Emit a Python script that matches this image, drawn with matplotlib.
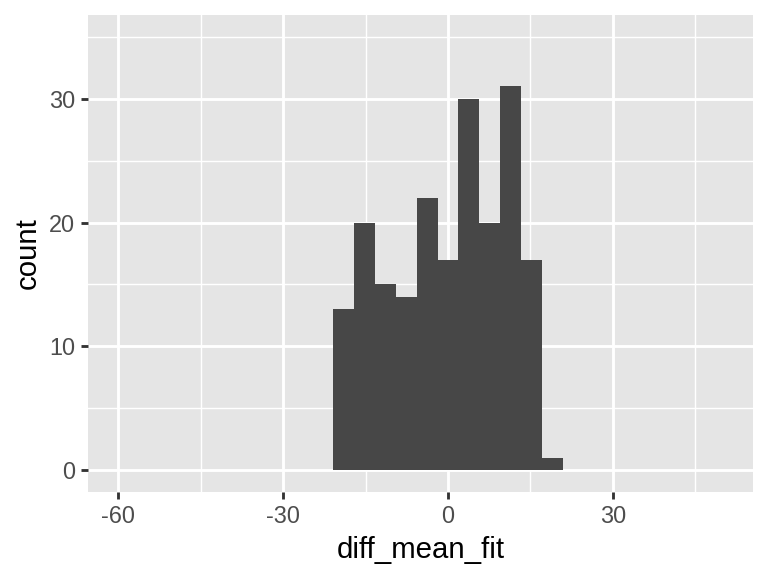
import matplotlib
matplotlib.use("Agg")
import matplotlib.pyplot as plt
import matplotlib.ticker as mticker

# histogram: 30 bins over [-60, 50] -> width 110/29
bin_width = 110 / 29
bin_centers = [-5, -4, -3, -2, -1, 0, 1, 2, 3, 4, 5]  # in units of bin_width
counts = [13, 20, 15, 14, 22, 17, 30, 20, 31, 17, 1]

x_ticks = [-60, -30, 0, 30]
y_ticks = [0, 10, 20, 30]

plt.rcParams["font.family"] = ["Liberation Sans", "DejaVu Sans"]

fig = plt.figure(figsize=(4, 3), dpi=192)
ax = fig.add_axes([88 / 768, 1 - 492 / 576, (753 - 88) / 768, (492 - 15) / 576])
ax.set_facecolor("#E5E5E5")

centers = [c * bin_width for c in bin_centers]
ax.bar(centers, counts, width=bin_width, color="#474747", linewidth=0, zorder=3)

ax.set_xlim(-60 - 5.5, 50 + 5.5)
ax.set_ylim(0 - 1.75, 35 + 1.75)
ax.xaxis.set_major_locator(mticker.FixedLocator(x_ticks))
ax.yaxis.set_major_locator(mticker.FixedLocator(y_ticks))
ax.xaxis.set_minor_locator(mticker.FixedLocator([-45, -15, 15, 45]))
ax.yaxis.set_minor_locator(mticker.FixedLocator([5, 15, 25, 35]))
ax.set_xticklabels([str(t) for t in x_ticks])
ax.set_yticklabels([str(t) for t in y_ticks])

ax.grid(which="major", color="white", linewidth=1.07, zorder=1)
ax.grid(which="minor", color="white", linewidth=0.53, zorder=1)
ax.set_axisbelow(True)
for s in ax.spines.values():
    s.set_visible(False)

ax.tick_params(which="major", length=2.75, width=1.07, color="#333333",
               labelsize=8.8, labelcolor="#4D4D4D", pad=2.2)
ax.tick_params(which="minor", length=0)

ax.set_xlabel("diff_mean_fit", fontsize=11, color="black", labelpad=2.75)
ax.set_ylabel("count", fontsize=11, color="black", labelpad=2.75)

fig.savefig("out.png", dpi=192)
